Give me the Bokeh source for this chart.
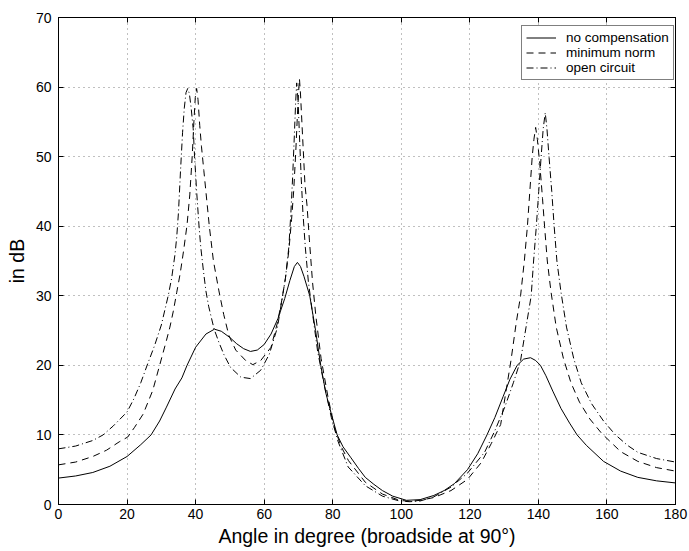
from bokeh.plotting import figure
from bokeh.models import LinearAxis, Range1d, Legend, LegendItem, FixedTicker
from bokeh.embed import file_html
from bokeh.resources import INLINE

# ---- data ----
x_ticks = [0, 20, 40, 60, 80, 100, 120, 140, 160, 180]
y_ticks = [0, 10, 20, 30, 40, 50, 60, 70]

angle_none = [0, 5, 10, 15, 20, 24, 27, 29.5, 31.5, 34, 36, 37.5, 40, 43, 45.5, 47.5, 50, 52, 54, 56, 58,
              60, 62, 64, 66, 67.5, 68.8, 69.7, 70.6, 71.6, 73.3, 75, 76.5, 78, 79.6, 81.3, 83, 85.2, 87.5,
              89.5, 92, 94.5, 97.5, 101.5, 105.5, 109.5, 112.5, 115.5, 119.3, 122.3, 125, 127.3, 129.7,
              131.7, 133.8, 135.7, 137.7, 139.2, 140.6, 142.2, 144.2, 146.6, 149.1, 151.3, 154, 159, 164,
              169, 174.5, 180]
db_none = [3.8, 4.1, 4.6, 5.5, 6.9, 8.6, 10.0, 12.0, 14.0, 16.6, 18.2, 20.0, 22.6, 24.5, 25.2, 24.9, 24.0,
           23.1, 22.4, 22.0, 22.2, 23.0, 24.5, 26.7, 29.6, 32.2, 34.2, 34.8, 34.2, 32.8, 30.0, 25.0, 20.0,
           16.0, 13.0, 10.0, 8.3, 6.8, 5.2, 3.9, 2.9, 2.0, 1.2, 0.6, 0.7, 1.3, 2.0, 3.0, 5.0, 7.3, 10.0,
           12.5, 15.5, 18.0, 20.0, 20.9, 21.1, 20.7, 20.0, 18.5, 16.3, 13.8, 11.7, 10.0, 8.5, 6.2, 4.8,
           3.9, 3.4, 3.1]

angle_minnorm = [0, 5, 10, 14, 17.7, 20.2, 22.2, 24.7, 27.5, 29.5, 31.5, 32.5, 33.5, 34.5, 35.5, 36.5, 37.5,
                 38.3, 39.0, 39.5, 39.9, 40.3, 40.7, 41.2, 41.7, 42.4, 43.4, 44, 45.2, 46.8, 48.2, 49.7,
                 51.7, 54.6, 56.7, 59, 62, 63.9, 65.2, 66.2, 67.2, 68, 68.6, 69.2, 69.7, 70.0, 70.3, 70.6,
                 70.9, 71.4, 71.9, 72.5, 73.2, 74.1, 75.1, 76.6, 78.6, 80.5, 82.5, 84.6, 89.5, 94.5, 99.5,
                 102.5, 105.5, 109.5, 114.5, 119.3, 123.3, 126.3, 129, 130.3, 132, 133.5, 134.8, 135.9,
                 136.8, 137.5, 138.2, 138.7, 139.2, 139.7, 140.4, 141.2, 141.8, 142.6, 143.7, 145.2, 147.3,
                 149.5, 152, 155, 158.5, 164, 169, 174.5, 180]
db_minnorm = [5.7, 6.1, 6.9, 7.8, 9.0, 9.7, 11.1, 13.0, 16.4, 20.0, 23.6, 25.5, 27.8, 30.5, 33.2, 36.5, 40.2,
              44.5, 50.0, 55.0, 58.5, 59.8, 58.2, 54.5, 51.5, 48.0, 43.0, 40.0, 35.0, 30.7, 27.3, 24.3,
              22.2, 20.7, 20.1, 20.7, 22.6, 26.2, 29.5, 32.5, 36.5, 41.0, 45.0, 50.5, 56.0, 59.0, 61.2,
              59.0, 56.0, 51.0, 46.0, 43.0, 38.0, 32.0, 27.0, 21.0, 15.5, 11.0, 8.3, 6.3, 3.2, 1.5, 0.6,
              0.45, 0.6, 1.0, 2.0, 3.6, 6.0, 8.8, 11.5, 15.5, 20.7, 26.0, 30.0, 35.0, 40.0, 45.0, 50.0,
              52.5, 54.2, 52.5, 49.0, 44.0, 40.0, 35.0, 30.5, 25.5, 21.0, 17.5, 14.7, 12.3, 10.2, 7.6,
              6.2, 5.3, 4.8]

angle_open = [0, 5, 10, 13, 16, 20, 22, 24, 26, 28, 30, 32, 33, 34, 34.5, 35, 35.6, 36.2, 36.7, 37.2, 37.7,
              38.2, 38.7, 39.3, 39.7, 40.3, 41, 41.5, 42.3, 43, 43.8, 45.4, 46.8, 48.3, 50.2, 53.2, 56, 59,
              61.5, 63.9, 65.2, 66.2, 67.2, 67.8, 68.3, 68.8, 69.2, 69.5, 69.9, 70.3, 70.8, 71.3, 72, 72.9,
              74.1, 75.6, 77.6, 79.6, 81.6, 84.5, 89.5, 94.5, 99.5, 102.5, 105.5, 109.5, 114.5, 119.3,
              124.3, 127.2, 130.2, 132.7, 134.8, 136.4, 137.9, 138.6, 139.4, 140.1, 140.8, 141.4, 142,
              142.5, 143.1, 143.9, 144.6, 145.4, 146.6, 148.2, 150.3, 152.5, 155.5, 159, 162.5, 166, 169,
              174.5, 180]
db_open = [8.0, 8.4, 9.2, 10.0, 11.3, 13.3, 15.2, 17.5, 20.2, 22.8, 25.8, 30.0, 32.5, 36.0, 38.5, 42.0, 48.0,
           53.5, 57.0, 59.2, 59.8, 59.0, 57.0, 54.0, 50.0, 45.0, 40.0, 37.0, 33.5, 30.7, 28.5, 25.2, 23.3,
           21.5, 19.7, 18.3, 18.1, 19.3, 21.6, 25.5, 29.5, 32.5, 37.0, 42.0, 47.0, 53.0, 58.0, 60.6, 58.0,
           53.0, 47.0, 42.0, 37.0, 32.0, 27.5, 22.0, 17.0, 12.5, 9.0, 5.4, 2.7, 1.2, 0.5, 0.4, 0.5, 1.1,
           2.5, 4.5, 7.5, 10.5, 14.0, 17.5, 20.7, 25.5, 30.0, 35.0, 40.0, 45.0, 50.0, 54.0, 56.3, 54.0,
           50.0, 45.0, 40.0, 35.0, 30.5, 25.5, 21.0, 17.5, 14.5, 12.0, 10.0, 8.5, 7.5, 6.6, 6.1]

series_labels = ["no compensation", "minimum norm", "open circuit"]

FONT = "Liberation Sans"

p = figure(width=689, height=551, output_backend="svg", toolbar_location=None,
           x_range=Range1d(0, 180), y_range=Range1d(0, 70),
           min_border_left=58, min_border_right=14, min_border_top=17, min_border_bottom=47)
p.background_fill_color = "white"
p.border_fill_color = "white"
p.outline_line_color = "black"
p.outline_line_width = 1

for ax, ticks in ((p.xaxis[0], x_ticks), (p.yaxis[0], y_ticks)):
    ax.ticker = FixedTicker(ticks=ticks)
    ax.major_tick_in = 5
    ax.major_tick_out = 0
    ax.minor_tick_line_color = None
    ax.axis_line_color = "black"
    ax.major_tick_line_color = "black"
    ax.major_label_text_font = FONT
    ax.major_label_text_font_size = "14px"
    ax.major_label_text_color = "black"
    ax.axis_label_text_font = FONT
    ax.axis_label_text_font_size = "19.5px"
    ax.axis_label_text_font_style = "normal"
    ax.axis_label_text_color = "black"

p.xaxis[0].axis_label = "Angle in degree (broadside at 90°)"
p.yaxis[0].axis_label = "in dB"
p.xaxis[0].major_label_standoff = 4
p.xaxis[0].axis_label_standoff = 3
p.yaxis[0].major_label_standoff = 7
p.yaxis[0].axis_label_standoff = 5

for loc, ticks in (("above", x_ticks), ("right", y_ticks)):
    ax = LinearAxis(ticker=FixedTicker(ticks=ticks), major_tick_in=5, major_tick_out=0,
                    minor_tick_line_color=None, major_label_text_font_size="0px",
                    major_label_text_color=None, major_label_standoff=0,
                    axis_line_color="black", major_tick_line_color="black")
    p.add_layout(ax, loc)

for g in (p.xgrid[0], p.ygrid[0]):
    g.grid_line_color = "#808080"
    g.grid_line_dash = "1 4"
    g.grid_line_width = 1
p.xgrid[0].ticker = FixedTicker(ticks=x_ticks)
p.ygrid[0].ticker = FixedTicker(ticks=y_ticks)

r1 = p.line(angle_none, db_none, line_color="black", line_width=1)
r2 = p.line(angle_minnorm, db_minnorm, line_color="black", line_width=1, line_dash="7 5")
r3 = p.line(angle_open, db_open, line_color="black", line_width=1, line_dash="7 3 1 3")

legend = Legend(items=[LegendItem(label=series_labels[0], renderers=[r1]),
                       LegendItem(label=series_labels[1], renderers=[r2]),
                       LegendItem(label=series_labels[2], renderers=[r3])],
                location=(463, 424))
legend.label_text_font = FONT
legend.label_text_font_size = "13.5px"
legend.label_text_color = "black"
legend.label_height = 13
legend.glyph_height = 13
legend.glyph_width = 30
legend.spacing = 0
legend.padding = 4
legend.margin = 0
legend.label_standoff = 10
legend.border_line_color = "black"
legend.border_line_width = 1
legend.background_fill_color = "white"
legend.background_fill_alpha = 1
p.add_layout(legend)

open("out.html", "w").write(file_html(p, INLINE))
